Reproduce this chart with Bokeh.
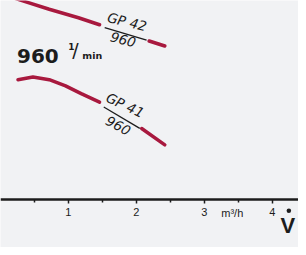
import numpy as np
from bokeh.plotting import figure
from bokeh.models import Range1d, LinearAxis, FixedTicker, ColumnDataSource
from bokeh.core.properties import value
from bokeh.embed import file_html
from bokeh.resources import INLINE

# flow rate Q (m3/h) and head H for the two pump curves (NaN = gap for label)
q_gp42 = [0.05, 0.32, 0.72, 1.15, 1.46, np.nan, 2.19, 2.42]
h_gp42 = [26.4, 25.6, 24.5, 23.4, 22.5, np.nan, 20.4, 19.75]
q_gp41 = [0.26, 0.48, 0.72, 0.96, 1.19, 1.46, np.nan, 2.08, 2.42]
h_gp41 = [15.4, 15.75, 15.4, 14.6, 13.6, 12.5, np.nan, 9.1, 7.0]
x_ticks = [0, 1, 2, 3, 4]
x_minor = [0.5, 1.5, 2.5, 3.5]
curve_names = ["GP 42", "GP 41"]
speed_label = "960"
x_unit = "m³/h"
x_symbol = "V"

RED = "#a8193e"
BG = "#f1f2f4"
INK = "#1c1c1c"

p = figure(width=298, height=247, output_backend="svg", toolbar_location=None,
           x_range=Range1d(0.003, 4.387), y_range=Range1d(-6.25, 25.625),
           x_axis_type=None, y_axis_type=None,
           min_border_left=0, min_border_right=0, min_border_top=0, min_border_bottom=0)
p.background_fill_color = BG
p.border_fill_color = BG
p.outline_line_color = None
p.xgrid.visible = False
p.ygrid.visible = False

ax = LinearAxis(ticker=FixedTicker(ticks=x_ticks, minor_ticks=x_minor), fixed_location=0)
ax.axis_line_width = 2.5
ax.axis_line_color = INK
ax.major_tick_out = 4
ax.major_tick_in = 0
ax.minor_tick_out = 3
ax.minor_tick_in = 0
ax.major_tick_line_width = 1.5
ax.minor_tick_line_width = 1.5
ax.major_tick_line_color = INK
ax.minor_tick_line_color = INK
ax.major_label_standoff = 5
ax.major_label_text_font = "Liberation Sans"
ax.major_label_text_font_size = "11px"
ax.major_label_text_color = INK
p.add_layout(ax, "below")

p.line(q_gp42, h_gp42, line_color=RED, line_width=3.5, line_cap="round")
p.line(q_gp41, h_gp41, line_color=RED, line_width=3.5, line_cap="round")

# curve labels
lab = ColumnDataSource(dict(
    x=[1.865, 1.808, 1.837, 1.736],
    y=[22.9, 20.6, 12.13, 9.5],
    t=[curve_names[0], speed_label, curve_names[1], speed_label],
    a=[-0.24, -0.26, -0.44, -0.5],
))
p.text(x="x", y="y", text="t", angle="a", source=lab, text_align="center",
       text_baseline="middle", text_font=value("DejaVu Sans"),
       text_font_style="italic", text_font_size="13.5px", text_color=INK)
p.segment(x0=[1.536, 1.522], y0=[22.13, 11.88], x1=[2.152, 2.052], y1=[20.5, 9.13],
          line_color=INK, line_width=1.3)

# speed annotation
p.text(x=[0.246], y=[18.5], text=[speed_label], text_font=value("DejaVu Sans"),
       text_font_style="bold", text_font_size="20px", text_color=INK,
       text_baseline="alphabetic")
p.text(x=[1.0], y=[20.1], text=["1"], text_font=value("DejaVu Sans"),
       text_font_style="bold", text_font_size="9px", text_color=INK,
       text_baseline="top")
p.text(x=[1.106], y=[19.25], text=["/"], text_font=value("DejaVu Sans"),
       text_font_size="19px", text_color=INK, text_align="center",
       text_baseline="middle")
p.text(x=[1.206], y=[18.5], text=["min"], text_font=value("DejaVu Sans"),
       text_font_style="bold", text_font_size="9.5px", text_color=INK,
       text_baseline="alphabetic")

# axis unit and flow-rate symbol (V with dot above)
p.text(x=[3.413], y=[-1.0], text=[x_unit], text_font=value("Liberation Sans"),
       text_font_size="11px", text_color=INK, text_align="center",
       text_baseline="top")
p.text(x=[4.23], y=[-1.75], text=[x_symbol], text_font=value("Liberation Sans"),
       text_font_style="bold", text_font_size="22px", text_color=INK,
       text_align="center", text_baseline="top")
p.scatter(x=[4.245], y=[-1.5], size=4.5, marker="circle", fill_color=INK, line_color=None)

open("out.html", "w").write(file_html(p, INLINE))
